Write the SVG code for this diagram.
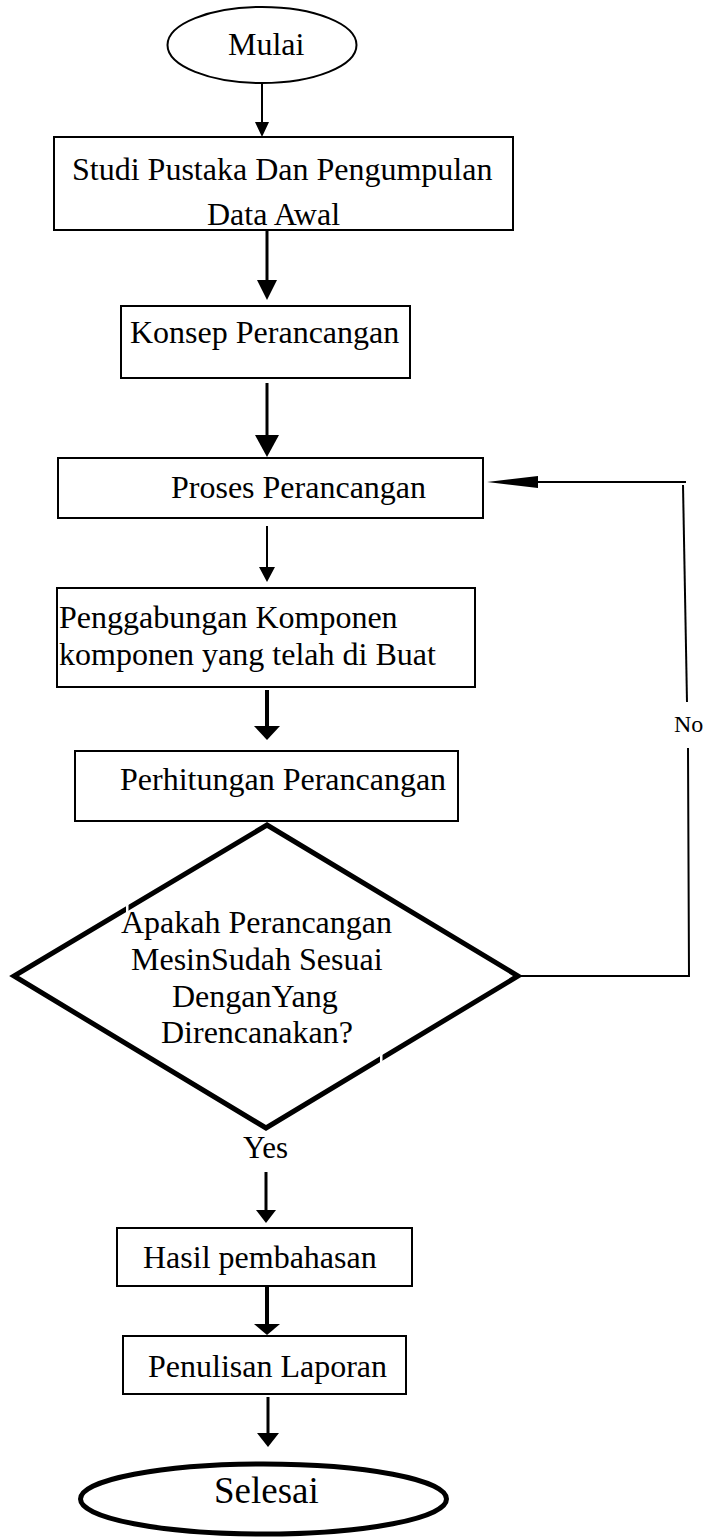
<svg xmlns="http://www.w3.org/2000/svg" width="707" height="1537" viewBox="0 0 707 1537">
<style>
.bg{fill:#fff}
.box{fill:#fff;stroke:#000;stroke-width:2}
.t{font-family:"Liberation Serif","Times New Roman",serif;font-size:32px;fill:#000}
.ln{stroke:#000;fill:none}
.hd{fill:#000;stroke:none}
</style>
<rect class="bg" x="0" y="0" width="707" height="1537"/>
<g id="connectors">
<line class="ln" x1="262" y1="83" x2="262" y2="124" stroke-width="2"/>
<polygon class="hd" points="255,122 269,122 262,137"/>
<line class="ln" x1="267" y1="231" x2="267" y2="282" stroke-width="3"/>
<polygon class="hd" points="257,280 277,280 267,300"/>
<line class="ln" x1="267" y1="383" x2="267" y2="437" stroke-width="3"/>
<polygon class="hd" points="255,435 279,435 267,457"/>
<line class="ln" x1="267" y1="526" x2="267" y2="569" stroke-width="2"/>
<polygon class="hd" points="259,567 275,567 267,582"/>
<line class="ln" x1="267" y1="690" x2="267" y2="728" stroke-width="4"/>
<polygon class="hd" points="254,726 280,726 267,740"/>
<line class="ln" x1="266" y1="1172" x2="266" y2="1212" stroke-width="3"/>
<polygon class="hd" points="256,1210 276,1210 266,1223"/>
<line class="ln" x1="267" y1="1286" x2="267" y2="1326" stroke-width="4"/>
<polygon class="hd" points="254,1324 280,1324 267,1335"/>
<line class="ln" x1="268" y1="1397" x2="268" y2="1435" stroke-width="3"/>
<polygon class="hd" points="257,1433 279,1433 268,1447"/>
<polyline class="ln" points="518,976 689,976 688,748" stroke-width="2"/>
<line class="ln" x1="687" y1="702" x2="683" y2="485" stroke-width="2"/>
<line class="ln" x1="686" y1="482" x2="536" y2="482" stroke-width="2"/>
<polygon class="hd" points="538,476 538,488 487,482"/>
<text class="t" x="674" y="732" style="font-size:24px">No</text>
<text class="t" x="243" y="1158" style="font-size:31px">Yes</text>
</g>
<g id="mulai">
<ellipse cx="262" cy="45" rx="94.5" ry="38" fill="#fff" stroke="#000" stroke-width="2"/>
<text class="t" x="228" y="55">Mulai</text>
</g>
<g id="studi">
<rect class="box" x="54" y="137" width="459" height="93"/>
<text class="t" x="72" y="180">Studi Pustaka Dan Pengumpulan</text>
<text class="t" x="207" y="225">Data Awal</text>
</g>
<g id="konsep">
<rect class="box" x="121" y="306" width="289" height="72"/>
<text class="t" x="130" y="343">Konsep Perancangan</text>
</g>
<g id="proses">
<rect class="box" x="58" y="458" width="425" height="60"/>
<text class="t" x="171" y="498">Proses Perancangan</text>
</g>
<g id="penggabungan">
<rect class="box" x="57" y="588" width="418" height="99"/>
<text class="t" x="59" y="628">Penggabungan Komponen</text>
<text class="t" x="59" y="665">komponen yang telah di Buat</text>
</g>
<g id="perhitungan">
<rect class="box" x="75" y="751" width="383" height="70"/>
<text class="t" x="120" y="790">Perhitungan Perancangan</text>
</g>
<g id="keputusan">
<polygon points="267,825 518,976 266,1128 14,976" fill="#fff" stroke="#000" stroke-width="5" stroke-linejoin="miter"/>
<rect x="126" y="902" width="2.5" height="13" fill="#fff"/>
<rect x="380" y="1053" width="2.5" height="13" fill="#fff"/>
<text class="t" x="121" y="933">Apakah Perancangan</text>
<text class="t" x="131" y="970">MesinSudah Sesuai</text>
<text class="t" x="172" y="1007">DenganYang</text>
<text class="t" x="161" y="1043">Direncanakan?</text>
</g>
<g id="hasil">
<rect class="box" x="117" y="1228" width="295" height="58"/>
<text class="t" x="143" y="1268">Hasil pembahasan</text>
</g>
<g id="penulisan">
<rect class="box" x="123" y="1336" width="283" height="58"/>
<text class="t" x="148" y="1377">Penulisan Laporan</text>
</g>
<g id="selesai">
<ellipse cx="263.5" cy="1499" rx="183" ry="35" fill="#fff" stroke="#000" stroke-width="5"/>
<text class="t" x="214" y="1503" style="font-size:37px">Selesai</text>
</g>
</svg>
